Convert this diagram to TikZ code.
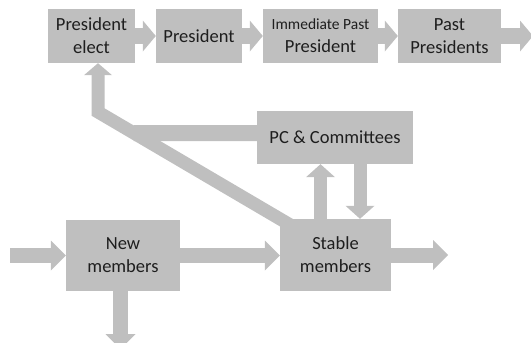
\documentclass[tikz,border=0pt]{standalone}
\usepackage{fontspec}
\setmainfont{Carlito}
\usetikzlibrary{arrows.meta,calc}
\definecolor{boxgray}{HTML}{BFBFBF}
\definecolor{txt}{HTML}{1E1E1E}
\begin{document}
\begin{tikzpicture}[x=1pt,y=-1pt,
  box/.style={fill=boxgray, inner sep=0pt, text=txt, align=center,
    font=\fontsize{18.5}{23}\selectfont},
  flowT/.style={draw=boxgray, line width=16pt,
    -{Triangle[length=13pt, width=31pt, line width=0pt]}},
  flowB/.style={draw=boxgray, line width=15pt,
    -{Triangle[length=15pt, width=30pt, line width=0pt]}},
  flowV/.style={draw=boxgray, line width=13pt,
    -{Triangle[length=13pt, width=29pt, line width=0pt]}},
  flowS/.style={draw=boxgray, line width=13pt, line join=miter,
    -{Triangle[length=12pt, width=28pt, line width=0pt]}},
  bar/.style={draw=boxgray, line width=16pt}
]
\useasboundingbox (0,0) rectangle (531,343);
% top row
\node[box, minimum width=87pt, minimum height=54pt] (pe) at (91.5,36) {President\\elect};
\node[box, minimum width=86pt, minimum height=54pt] (pr) at (199,36) {President};
\node[box, minimum width=115pt, minimum height=54pt] (ipp) at (320.5,36)
  {{\fontsize{15.5}{18}\selectfont Immediate Past}\\President};
\node[box, minimum width=103pt, minimum height=54pt] (pp) at (449.5,36) {Past\\Presidents};
% lower part
\node[box, minimum width=156pt, minimum height=53pt] (pc) at (335,137.5) {PC \& Committees};
\node[box, minimum width=114pt, minimum height=71pt] (nm) at (123,255.5) {New\\members};
\node[box, minimum width=111pt, minimum height=72pt] (sm) at (335.5,255) {Stable\\members};
% top arrows
\coordinate (ppout) at (533,36);
\draw[flowT] (pe.east) -- (pr.west);
\draw[flowT] (pr.east) -- (ipp.west);
\draw[flowT] (ipp.east) -- (pp.west);
\draw[flowT] (pp.east) -- (ppout);
% bottom arrows
\coordinate (in) at (10,255.5);
\coordinate (out) at (448,255);
\coordinate (down) at (120.5,349);
\draw[flowB] (in) -- (nm.west);
\draw[flowB] (nm.east) -- (nm.east -| sm.west);
\draw[flowB] (sm.east) -- (out);
\draw[flowB] (nm.south -| down) -- (down);
\draw[flowV] ([xshift=-15pt]sm.north) -- ([xshift=-15pt]sm.north |- pc.south);
\draw[flowV] ([xshift=24.5pt]sm.north |- pc.south) -- ([xshift=24.5pt]sm.north);
% feedback to president elect
\coordinate (bend) at (98,112);
\draw[flowS, shorten <=-12pt] (sm.north west) -- (bend) -- ([xshift=6.5pt]pe.south);
\coordinate (pcw) at ([yshift=4.5pt]pc.west);
\coordinate (pcl) at (60,133);
\draw[bar] (pcw) -- (intersection of sm.north west--bend and pcw--pcl);
\end{tikzpicture}
\end{document}
